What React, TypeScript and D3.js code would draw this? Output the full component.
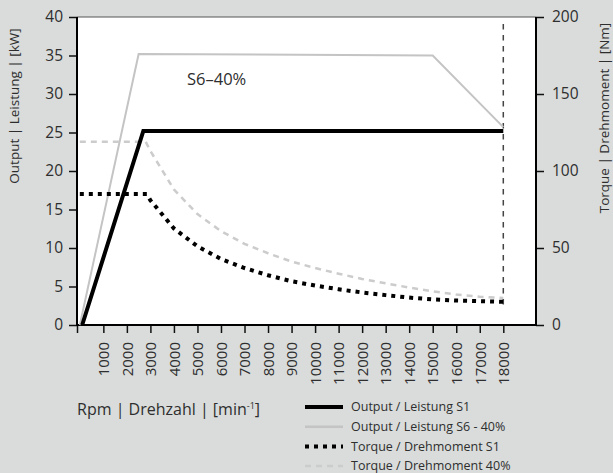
import React, { useEffect, useRef } from "react";
import * as d3 from "d3";

// rpm values and readings taken from the chart
const rpmTicks = [1000, 2000, 3000, 4000, 5000, 6000, 7000, 8000, 9000, 10000, 11000, 12000, 13000, 14000, 15000, 16000, 17000, 18000];
const powerTicks = [0, 5, 10, 15, 20, 25, 30, 35, 40];
const torqueTicks = [0, 50, 100, 150, 200];

const rpmOutputS1 = [100, 2700, 18000];
const outputS1 = [0, 25.2, 25.2];

const rpmOutputS6 = [0, 2500, 15000, 18000];
const outputS6 = [0, 35.2, 35.0, 25.7];

const rpmTorqueS1 = [0, 1000, 2000, 2850, 3000, 4000, 5000, 6000, 7000, 8000, 9000, 10000, 11000, 12000, 13000, 14000, 15000, 16000, 17000, 18000];
const torqueS1 = [85, 85, 85, 85, 81, 62.7, 51.1, 42.9, 37, 32.3, 28.4, 25.6, 23.2, 21.1, 19.4, 17.8, 16.6, 15.9, 15.5, 15.1];

const rpmTorque40 = [0, 1000, 2000, 2800, 3000, 4000, 5000, 6000, 7000, 8000, 9000, 10000, 11000, 12000, 13000, 14000, 15000, 16000, 17000, 18000];
const torque40 = [119, 119, 119, 119, 113, 88, 72, 61, 52.7, 46.6, 41.2, 37, 33.3, 29.9, 27.1, 24.3, 21.9, 19.8, 18.4, 17.5];

const maxRpm = 18000;

const legendItems = [
  { label: "Output / Leistung S1", color: "#000", width: 4, dash: null },
  { label: "Output / Leistung S6 - 40%", color: "#c4c4c4", width: 2.5, dash: null },
  { label: "Torque / Drehmoment S1", color: "#000", width: 4, dash: "4,5" },
  { label: "Torque / Drehmoment 40%", color: "#cccccc", width: 2.5, dash: "6,5" },
];

const FONT = "'Open Sans', sans-serif";
const TEXT = "#2e2e2e";

export default function App() {
  const svgRef = useRef<SVGSVGElement | null>(null);

  useEffect(() => {
    if (!svgRef.current) return;
    const width = 613, height = 473;
    const left = 77, right = 536, top = 17, bottom = 325;

    const x = d3.scaleLinear().domain([-120, 19390]).range([left, right]);
    const yL = d3.scaleLinear().domain([0, 40]).range([bottom, top]);
    const yR = d3.scaleLinear().domain([0, 200]).range([bottom, top]);

    const svg = d3.select(svgRef.current);
    svg.selectAll("*").remove();
    svg.style("font-family", FONT);

    svg.append("rect").attr("width", width).attr("height", height).attr("fill", "#d9dcdb");
    svg.append("rect")
      .attr("x", left).attr("y", top)
      .attr("width", right - left).attr("height", bottom - top)
      .attr("fill", "#fff");
    svg.append("line")
      .attr("x1", left).attr("x2", right).attr("y1", top).attr("y2", top)
      .attr("stroke", "#555").attr("stroke-width", 1);

    // axes
    const gx = svg.append("g")
      .attr("transform", `translate(0,${bottom})`)
      .call(d3.axisBottom(x).tickValues([-120, ...rpmTicks]).tickSize(8).tickSizeOuter(0)
        .tickFormat(d => (+d < 0 ? "" : String(d))));

    const gl = svg.append("g")
      .attr("transform", `translate(${left},0)`)
      .call(d3.axisLeft(yL).tickValues(powerTicks).tickSize(8).tickPadding(6).tickSizeOuter(0));

    const gr = svg.append("g")
      .attr("transform", `translate(${right},0)`)
      .call(d3.axisRight(yR).tickValues(torqueTicks).tickSize(8).tickPadding(8).tickSizeOuter(0));

    [gx, gl, gr].forEach(g => {
      g.select(".domain").remove();
      g.selectAll("line").attr("stroke", "#111").attr("stroke-width", 1.5);
      g.selectAll("text").attr("fill", TEXT).style("font-size", "15.5px").style("font-family", FONT);
    });
    gx.selectAll("text")
      .attr("transform", "rotate(-90)")
      .attr("x", -17).attr("y", 0).attr("dy", "0.35em")
      .style("text-anchor", "end")
      .style("font-size", "15px");

    // frame
    svg.append("path")
      .attr("d", `M${left},${top}V${bottom}H${right}V${top}`)
      .attr("fill", "none").attr("stroke", "#000").attr("stroke-width", 2);

    // dashed vertical line at max rpm
    svg.append("line")
      .attr("x1", x(maxRpm)).attr("x2", x(maxRpm))
      .attr("y1", 24).attr("y2", 310)
      .attr("stroke", "#444").attr("stroke-width", 1.5).attr("stroke-dasharray", "5.5,5.5");

    const power = d3.line<[number, number]>().x(d => x(d[0])).y(d => yL(d[1]));
    const torque = d3.line<[number, number]>().x(d => x(d[0])).y(d => yR(d[1]));

    svg.append("path")
      .attr("d", torque(rpmTorque40.map((r, i) => [r, torque40[i]])))
      .attr("fill", "none").attr("stroke", "#cccccc").attr("stroke-width", 2.5)
      .attr("stroke-dasharray", "6,5");

    svg.append("path")
      .attr("d", power(rpmOutputS6.map((r, i) => [r, outputS6[i]])))
      .attr("fill", "none").attr("stroke", "#c4c4c4").attr("stroke-width", 2);

    svg.append("path")
      .attr("d", torque(rpmTorqueS1.map((r, i) => [r, torqueS1[i]])))
      .attr("fill", "none").attr("stroke", "#000").attr("stroke-width", 4)
      .attr("stroke-dasharray", "4,5");

    svg.append("path")
      .attr("d", power(rpmOutputS1.map((r, i) => [r, outputS1[i]])))
      .attr("fill", "none").attr("stroke", "#000").attr("stroke-width", 4);

    svg.append("text")
      .attr("x", 187).attr("y", 85)
      .attr("fill", TEXT).style("font-size", "16.5px")
      .text("S6–40%");

    // axis titles
    svg.append("text")
      .attr("transform", "translate(19,106) rotate(-90)")
      .attr("text-anchor", "middle")
      .attr("fill", TEXT).style("font-size", "13.5px")
      .text("Output | Leistung | [kW]");

    svg.append("text")
      .attr("transform", "translate(609,118) rotate(-90)")
      .attr("text-anchor", "middle")
      .attr("fill", TEXT).style("font-size", "13.5px")
      .text("Torque | Drehmoment | [Nm]");

    const rpmLabel = svg.append("text")
      .attr("x", 77).attr("y", 415)
      .attr("fill", TEXT).style("font-size", "16px");
    rpmLabel.append("tspan").text("Rpm | Drehzahl | [min");
    rpmLabel.append("tspan").attr("dy", -6).style("font-size", "9px").text("-1");
    rpmLabel.append("tspan").attr("dy", 6).text("]");

    // legend
    const lg = svg.append("g").attr("transform", "translate(305,407)");
    legendItems.forEach((item, i) => {
      const row = lg.append("g").attr("transform", `translate(0,${i * 19.7})`);
      row.append("line")
        .attr("x1", 0).attr("x2", 38).attr("y1", 0).attr("y2", 0)
        .attr("stroke", item.color).attr("stroke-width", item.width)
        .attr("stroke-dasharray", item.dash ?? null);
      row.append("text")
        .attr("x", 46).attr("y", 0).attr("dy", "0.35em")
        .attr("fill", TEXT).style("font-size", "12.5px")
        .text(item.label);
    });
  }, []);

  return (
    <div style={{ position: "absolute", left: 0, top: 0 }}>
      <svg ref={svgRef} width={613} height={473} style={{ display: "block" }}></svg>
    </div>
  );
}
